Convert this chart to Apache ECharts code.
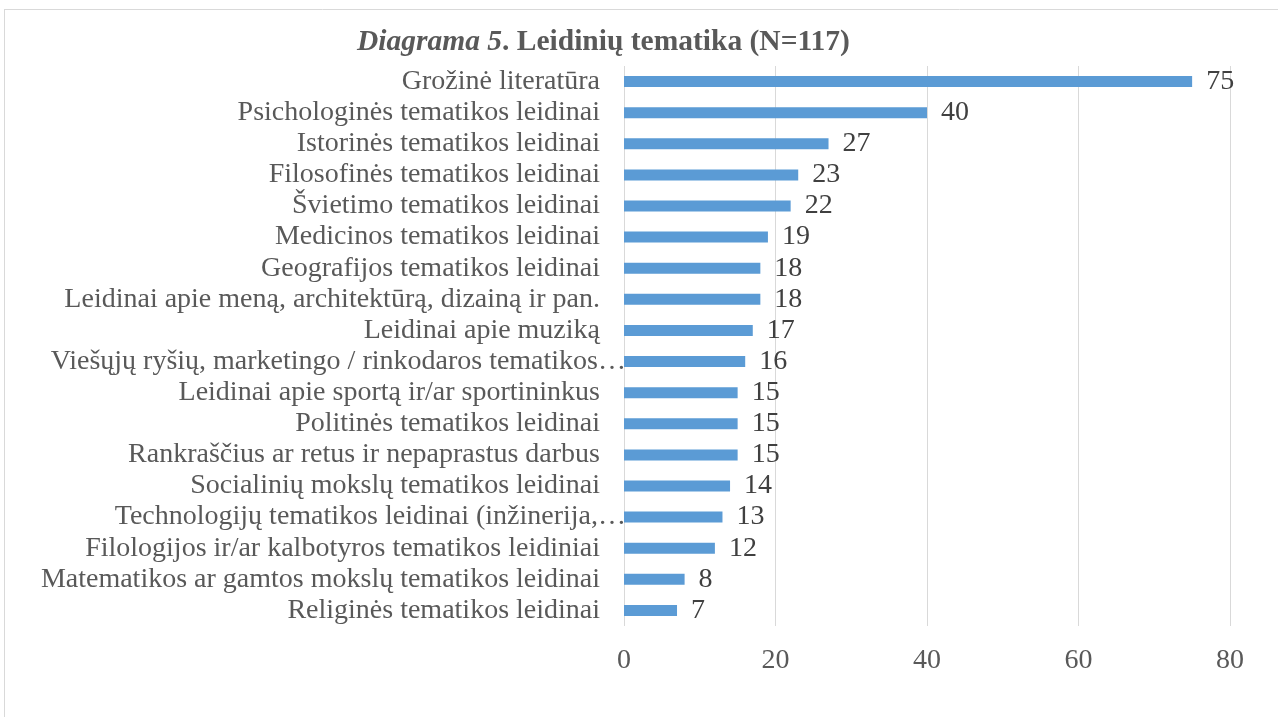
<!DOCTYPE html>
<html><head><meta charset="utf-8">
<script src="https://cdn.jsdelivr.net/npm/echarts@6/dist/echarts.min.js"></script>
<style>html,body{margin:0;padding:0;background:#fff}#c{width:1278px;height:717px}</style>
</head><body><div id="c"></div>
<script>
const categories = [
  "Grožinė literatūra",
  "Psichologinės tematikos leidinai",
  "Istorinės tematikos leidinai",
  "Filosofinės tematikos leidinai",
  "Švietimo tematikos leidinai",
  "Medicinos tematikos leidinai",
  "Geografijos tematikos leidinai",
  "Leidinai apie meną, architektūrą, dizainą ir pan.",
  "Leidinai apie muziką",
  "Viešųjų ryšių, marketingo / rinkodaros tematikos…",
  "Leidinai apie sportą ir/ar sportininkus",
  "Politinės tematikos leidinai",
  "Rankraščius ar retus ir nepaprastus darbus",
  "Socialinių mokslų tematikos leidinai",
  "Technologijų tematikos leidinai (inžinerija,…",
  "Filologijos ir/ar kalbotyros tematikos leidiniai",
  "Matematikos ar gamtos mokslų tematikos leidinai",
  "Religinės tematikos leidinai"
];
const values = [75, 40, 27, 23, 22, 19, 18, 18, 17, 16, 15, 15, 15, 14, 13, 12, 8, 7];
const xTicks = [0, 20, 40, 60, 80];

const FONT = '"Liberation Serif", "Times New Roman", serif';
const FS = 28;
// truncated labels overflow toward the axis, as in the source
const yData = categories.map(c => c.endsWith('…')
  ? { value: c, textStyle: { padding: [0, -26, 0, 0] } }
  : c);
const chart = echarts.init(document.getElementById('c'));
chart.setOption({
  backgroundColor: '#fff',
  animation: false,
  title: {
    text: '{i|Diagrama 5}{b|. Leidinių tematika (N=117)}',
    left: 352, top: 22,
    textStyle: {
      rich: {
        i: { fontFamily: FONT, fontStyle: 'italic', fontWeight: 'bold', fontSize: 29.5, color: '#595959' },
        b: { fontFamily: FONT, fontWeight: 'bold', fontSize: 29.5, color: '#595959' }
      }
    }
  },
  graphic: [
    { type: 'line', shape: { x1: 4, y1: 9.5, x2: 1278, y2: 9.5 }, style: { stroke: '#d9d9d9', lineWidth: 1 } },
    { type: 'line', shape: { x1: 4.5, y1: 9, x2: 4.5, y2: 717 }, style: { stroke: '#d9d9d9', lineWidth: 1 } }
  ],
  grid: { left: 624, right: 48, top: 66, bottom: 91, containLabel: false },
  xAxis: {
    type: 'value', min: xTicks[0], max: xTicks[xTicks.length - 1], interval: 20,
    axisLine: { show: false }, axisTick: { show: false },
    splitLine: { lineStyle: { color: '#d9d9d9', width: 1 } },
    axisLabel: { fontFamily: FONT, fontSize: FS, color: '#595959', margin: 21 }
  },
  yAxis: {
    type: 'category', data: yData, inverse: true,
    axisLine: { show: false }, axisTick: { show: false },
    axisLabel: { interval: 0, fontFamily: FONT, fontSize: FS, color: '#595959', margin: 24 }
  },
  series: [{
    type: 'bar', data: values, barWidth: 11,
    itemStyle: { color: '#5b9bd5' },
    label: { show: true, position: 'right', distance: 14, fontFamily: FONT, fontSize: FS, color: '#404040' }
  }]
});
</script></body></html>
